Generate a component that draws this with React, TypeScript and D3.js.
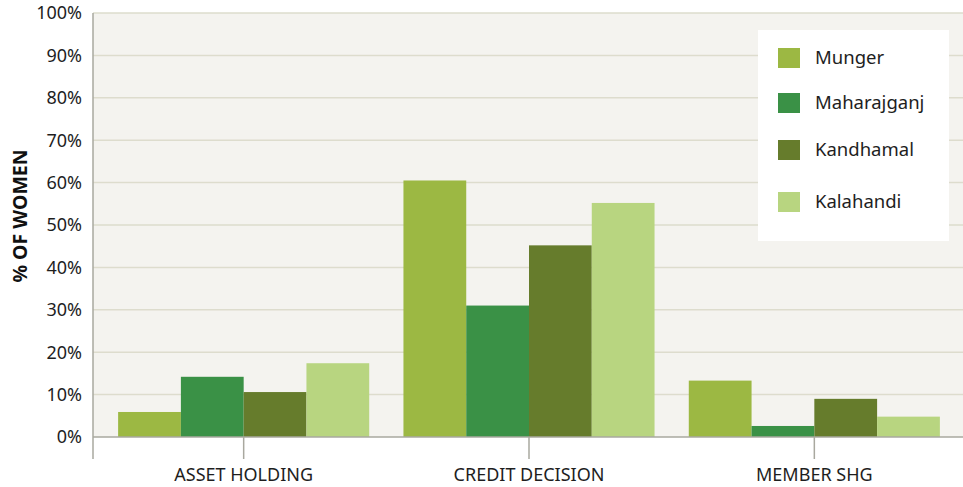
import React, { useEffect, useRef } from 'react';
import * as d3 from 'd3';

const categories = ['ASSET HOLDING', 'CREDIT DECISION', 'MEMBER SHG'];
const districts = ['Munger', 'Maharajganj', 'Kandhamal', 'Kalahandi'];
const munger = [5.9, 60.5, 13.3];
const maharajganj = [14.2, 31.0, 2.6];
const kandhamal = [10.6, 45.2, 9.0];
const kalahandi = [17.4, 55.2, 4.8];
const yTicks = [0, 10, 20, 30, 40, 50, 60, 70, 80, 90, 100];
const colors = ['#9cb843', '#3a9146', '#667c2c', '#b8d580'];

export default function App() {
    const svgRef = useRef<SVGSVGElement>(null);

    const width = 963;
    const height = 487;
    const font = '"Source Sans Pro", "Noto Sans", sans-serif';

    useEffect(() => {
        const series = [munger, maharajganj, kandhamal, kalahandi];
        const svg = d3.select(svgRef.current)
            .attr('width', width)
            .attr('height', height);
        svg.selectAll('*').remove();

        const plotLeft = 93;
        const plotRight = 963;
        const plotTop = 13;
        const plotBottom = 437;

        const yScale = d3.scaleLinear().domain([0, 100]).range([plotBottom, plotTop]);

        const xScale = d3.scaleBand()
            .domain(categories)
            .range([101, 957])
            .paddingInner(0.12)
            .paddingOuter(0.06);

        const xSub = d3.scaleBand()
            .domain(districts)
            .range([0, xScale.bandwidth()]);

        // background
        svg.append('rect')
            .attr('x', plotLeft).attr('y', plotTop)
            .attr('width', plotRight - plotLeft).attr('height', plotBottom - plotTop)
            .attr('fill', '#f4f3ef');

        // gridlines
        svg.append('g')
            .selectAll('line')
            .data(yTicks.filter(d => d > 0))
            .enter()
            .append('line')
            .attr('x1', plotLeft).attr('x2', plotRight)
            .attr('y1', d => yScale(d)).attr('y2', d => yScale(d))
            .attr('stroke', '#dddccd')
            .attr('stroke-width', 1.5);

        // y tick labels
        svg.append('g')
            .selectAll('text')
            .data(yTicks)
            .enter()
            .append('text')
            .attr('x', 82)
            .attr('y', d => yScale(d))
            .attr('dy', '0.36em')
            .attr('text-anchor', 'end')
            .attr('font-family', font)
            .attr('font-size', 18)
            .attr('fill', '#1e1e1e')
            .text(d => `${d}%`);

        // bars
        const groups = svg.append('g')
            .selectAll('g')
            .data(categories)
            .enter()
            .append('g')
            .attr('transform', d => `translate(${xScale(d)}, 0)`);

        groups.selectAll('rect')
            .data((c, ci) => districts.map((name, si) => ({ name, si, value: series[si][ci] })))
            .enter()
            .append('rect')
            .attr('x', d => xSub(d.name) as number)
            .attr('y', d => yScale(d.value))
            .attr('width', xSub.bandwidth())
            .attr('height', d => plotBottom - yScale(d.value))
            .attr('fill', d => colors[d.si]);

        // axes lines
        svg.append('line')
            .attr('x1', plotLeft).attr('x2', plotLeft)
            .attr('y1', plotTop).attr('y2', 459)
            .attr('stroke', '#a9a89f').attr('stroke-width', 1.5);
        svg.append('line')
            .attr('x1', plotLeft).attr('x2', plotRight)
            .attr('y1', plotBottom).attr('y2', plotBottom)
            .attr('stroke', '#a9a89f').attr('stroke-width', 1.5);

        // category ticks and labels
        const xg = svg.append('g');
        xg.selectAll('line')
            .data(categories)
            .enter()
            .append('line')
            .attr('x1', d => (xScale(d) as number) + xScale.bandwidth() / 2)
            .attr('x2', d => (xScale(d) as number) + xScale.bandwidth() / 2)
            .attr('y1', plotBottom).attr('y2', 459)
            .attr('stroke', '#a9a89f').attr('stroke-width', 1.5);
        xg.selectAll('text')
            .data(categories)
            .enter()
            .append('text')
            .attr('x', d => (xScale(d) as number) + xScale.bandwidth() / 2)
            .attr('y', 481)
            .attr('text-anchor', 'middle')
            .attr('font-family', font)
            .attr('font-size', 18)
            .attr('fill', '#1e1e1e')
            .text(d => d);

        // y axis title
        svg.append('text')
            .attr('transform', `translate(27, 216) rotate(-90)`)
            .attr('text-anchor', 'middle')
            .attr('font-family', font)
            .attr('font-size', 19.5)
            .attr('font-weight', 'bold')
            .attr('fill', '#111')
            .text('% OF WOMEN');

        // legend
        const legendRows = [58, 103, 150, 202];
        const legend = svg.append('g');
        legend.append('rect')
            .attr('x', 758).attr('y', 30)
            .attr('width', 191).attr('height', 211)
            .attr('fill', '#ffffff');
        const items = legend.selectAll('g.item')
            .data(districts)
            .enter()
            .append('g')
            .attr('class', 'item')
            .attr('transform', (d, i) => `translate(778, ${legendRows[i]})`);
        items.append('rect')
            .attr('x', 0).attr('y', -10)
            .attr('width', 22).attr('height', 20)
            .attr('fill', (d, i) => colors[i]);
        items.append('text')
            .attr('x', 37).attr('y', 0)
            .attr('dy', '0.35em')
            .attr('font-family', font)
            .attr('font-size', 18.5)
            .attr('fill', '#1e1e1e')
            .text(d => d);
    }, []);

    return (
        <svg ref={svgRef} style={{ position: 'absolute', left: 0, top: 0 }}></svg>
    );
}
